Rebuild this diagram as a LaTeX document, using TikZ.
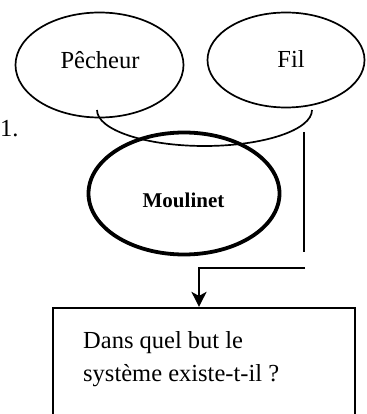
\documentclass[tikz,border=0pt]{standalone}
\usepackage{fontspec}
\setmainfont{Liberation Serif}
\usetikzlibrary{shapes.geometric,arrows.meta}
\tikzset{
  oval/.style={draw, ellipse, line width=1.7pt, inner sep=0pt},
  thickoval/.style={draw, ellipse, line width=3.8pt, inner sep=0pt},
  lbl/.style={inner sep=0pt, font=\fontsize{24.5}{33}\selectfont},
  boldlbl/.style={inner sep=0pt, font=\fontsize{21}{26}\selectfont\bfseries},
  conn/.style={line width=2.2pt},
  frame/.style={draw, rectangle, line width=2.2pt, inner sep=0pt}
}
\begin{document}
\begin{tikzpicture}[x=1pt, y=-1pt]
\clip (0,0) rectangle (366,414);
\node[lbl, anchor=base west] (num) at (0,136) {1.};
\node[oval, minimum width=168pt, minimum height=105pt] (pecheur) at (99.5,65) {};
\node[lbl, anchor=base] (pecheurtxt) at (100,69) {Pêcheur};
\node[oval, minimum width=157pt, minimum height=95pt] (fil) at (286,60) {};
\node[lbl, anchor=base] (filtxt) at (291,68) {Fil};
\coordinate (arcstart) at (97,110);
\draw[line width=1.7pt] (arcstart) arc[start angle=180, end angle=0, x radius=107.5, y radius=36];
\node[thickoval, minimum width=191pt, minimum height=122pt] (moulinet) at (184,193.5) {};
\node[boldlbl, anchor=base] (moulinettxt) at (183.5,207.5) {Moulinet};
\node[frame, minimum width=302pt, minimum height=140pt] (box) at (204,378) {};
\node[lbl, anchor=base west] (q1) at (83,348) {Dans quel but le};
\node[lbl, anchor=base west] (q2) at (83,381) {système existe-t-il ?};
\coordinate (v1) at (304,132);
\coordinate (v2) at (304,252);
\draw[conn] (v1) -- (v2);
\coordinate (hs) at (305,268);
\coordinate (bend) at (199,268);
\draw[conn, -{Stealth[length=15pt, width=15pt, inset=4pt]}] (hs) -- (bend) -- (bend |- box.north);
\end{tikzpicture}
\end{document}
